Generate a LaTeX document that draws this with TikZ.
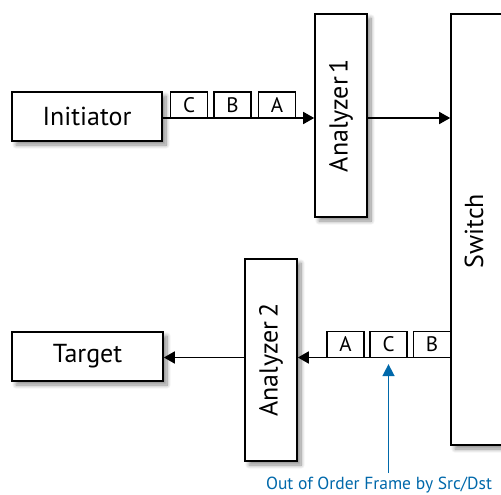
\documentclass[tikz,border=0pt]{standalone}
\usepackage{fontspec}
\setmainfont{PT Sans}
\usetikzlibrary{arrows.meta,shadows.blur}
\definecolor{myblue}{RGB}{0,104,170}
\begin{document}
\begin{tikzpicture}[x=1pt,y=-1pt,
  box/.style={draw=black, line width=1.6pt, fill=white, inner sep=0pt,
    font=\fontsize{26}{30}\selectfont,
    blur shadow={shadow xshift=4pt, shadow yshift=-4pt, shadow blur radius=4pt, shadow blur steps=10, shadow opacity=45}},
  frm/.style={draw=black, line width=1.3pt, fill=white, minimum width=37pt, minimum height=26pt,
    inner sep=0pt, font=\fontsize{21}{24}\selectfont},
  arr/.style={line width=1.6pt, -{Triangle[length=11pt,width=12pt]}},
  bluearr/.style={draw=myblue, line width=1.6pt, -{Triangle[length=12pt,width=12pt]}, myblue},
  bluetext/.style={text=myblue, font=\fontsize{17.5}{20}\selectfont, inner sep=0pt}]
\useasboundingbox (0,0) rectangle (501,495);
% boxes
\node[box, minimum width=100pt, minimum height=431pt] (sw) at (501,229.5) {};
\node[font=\fontsize{26}{30}\selectfont, inner sep=0pt] (swl) at (474,231) {\rotatebox{90}{Switch}};
\node[box, minimum width=150pt, minimum height=49pt] (init) at (87,116.5) {Initiator};
\node[box, minimum width=52pt, minimum height=203pt] (an1) at (341,115.5) {\rotatebox{90}{Analyzer\hspace{0.15em}1}};
\node[box, minimum width=151pt, minimum height=49pt] (target) at (87.5,356.5) {Target};
\node[box, minimum width=52pt, minimum height=202pt] (an2) at (271,360) {\rotatebox{90}{Analyzer\hspace{0.15em}2}};
% frames
\node[frm] (f1C) at (189,105) {C};
\node[frm] (f1B) at (232.5,105) {B};
\node[frm] (f1A) at (277,105) {A};
\node[frm] (f2A) at (345.5,344.5) {A};
\node[frm] (f2C) at (388.5,344.5) {C};
\node[frm] (f2B) at (432,344.5) {B};
% connectors
\coordinate (ya) at (0,118);
\coordinate (yb) at (0,357.5);
\draw[arr] (init.east |- ya) -- (an1.west |- ya);
\draw[arr] (an1.east |- ya) -- (sw.west |- ya);
\draw[arr] (sw.west |- yb) -- (an2.east |- yb);
\draw[arr] (an2.west |- yb) -- (target.east |- yb);
% note
\node[bluetext] (note) at (379,485.5) {Out of Order Frame by Src/Dst};
\coordinate (tail) at (388.5,473);
\draw[bluearr] (tail) -- ([yshift=-6pt]f2C.south);
\end{tikzpicture}
\end{document}
